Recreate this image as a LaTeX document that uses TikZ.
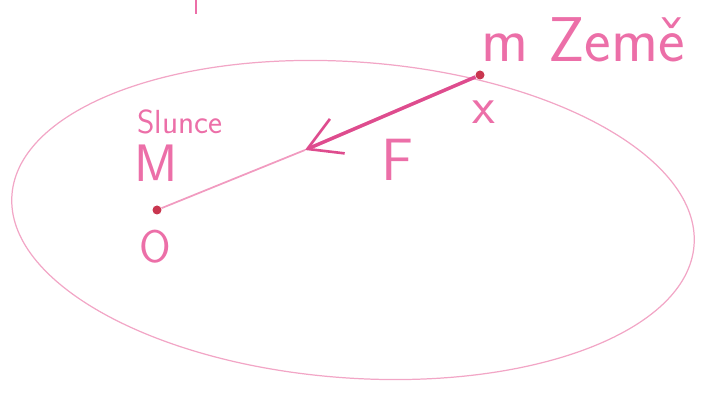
\documentclass[tikz,border=0pt]{standalone}
\usepackage{fontspec}
\usepackage{tikz}
\usetikzlibrary{positioning,calc,arrows.meta}
\definecolor{pinkline}{HTML}{F2A6C6}
\definecolor{pinkink}{HTML}{EC6FA8}
\definecolor{pinkarrow}{HTML}{DE4C8E}
\definecolor{dotred}{HTML}{C9364F}

\begin{document}
\begin{tikzpicture}[x=0.02cm,y=-0.02cm,
  ink/.style={text=pinkink,font=\sffamily,inner sep=0pt},
  dot/.style={circle,fill=dotred,inner sep=0pt,minimum size=0.18cm}]
\useasboundingbox (0,0) rectangle (707,394);
% orbit
\draw[pinkline,line width=0.7pt,rotate around={-4.2:(353,220)}] (353,220) ellipse [x radius=342,y radius=158];
\draw[pinkink,line width=1pt] (196,0) -- (196,14);
% bodies
\node[dot] (sun) at (157,210) {};
\node[dot] (earth) at (480,75) {};
\coordinate (tip) at (305,150);
\draw[pinkline!80!pinkink,line width=1pt] (sun) -- (tip);
\draw[pinkarrow,line width=2pt,-{Straight Barb[length=6.5mm,width=7.5mm,line width=1.5pt]}] (earth) -- (tip);
% labels
\node[ink,font=\sffamily\fontsize{36}{36}\selectfont] (zeme) at (583,40) {m Země};
\node[ink,font=\sffamily\fontsize{19}{19}\selectfont] (slunce) at (180,122) {Slunce};
\node[ink,font=\sffamily\fontsize{30}{30}\selectfont] (m) at (156,163) {M};
\node[ink,font=\sffamily\fontsize{34}{34}\selectfont] (f) at (397,160) {F};
\node[ink,font=\sffamily\fontsize{30}{30}\selectfont] (x) at (484,112) {x};
\node[ink,font=\sffamily\fontsize{26}{26}\selectfont] (o) at (155,247) {O};
\end{tikzpicture}
\end{document}
